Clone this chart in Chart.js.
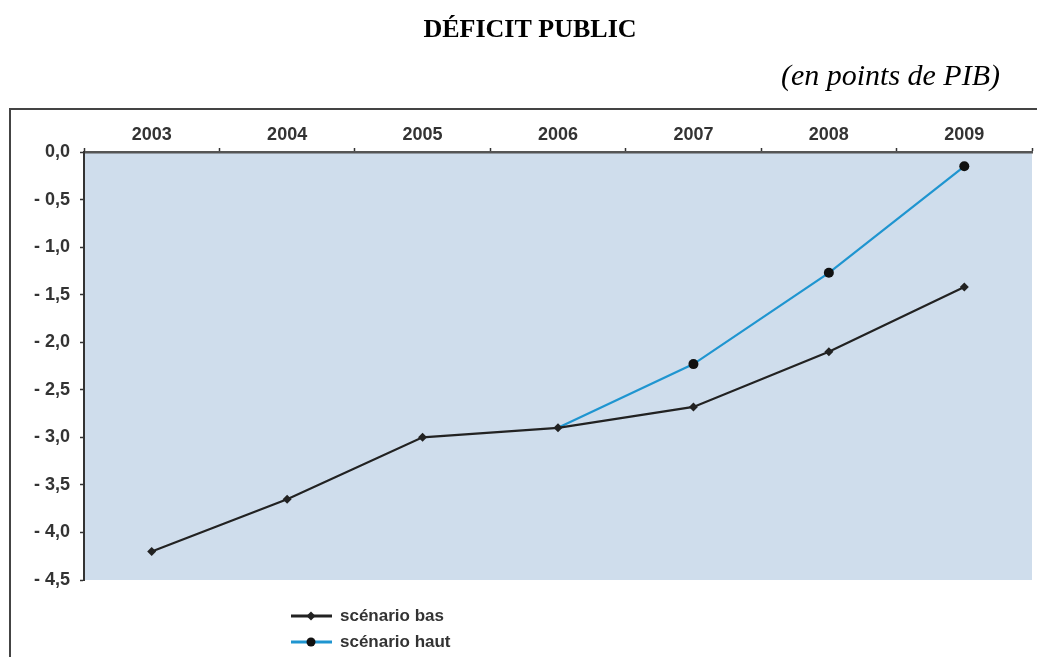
<!DOCTYPE html>
<html lang="fr">
<head>
<meta charset="utf-8">
<title>Déficit public</title>
<script src="https://cdn.jsdelivr.net/npm/chart.js@4/dist/chart.umd.min.js"></script>
<style>
  html, body { margin: 0; padding: 0; background: #fff; }
  canvas { display: block; }
</style>
</head>
<body>
<canvas id="chartDeficit" width="1037" height="657"></canvas>
<script>
// Déficit public, en points de PIB – deux scénarios
const annees = ['2003', '2004', '2005', '2006', '2007', '2008', '2009'];
const scenarioBas = [-4.2, -3.65, -3.0, -2.9, -2.68, -2.1, -1.42];
const scenarioHaut = [null, null, null, -2.9, -2.23, -1.27, -0.15];
const rayonsHaut = [0, 0, 0, 0, 5, 5, 5];

const titre = 'DÉFICIT PUBLIC';
const sousTitre = '(en points de PIB)';

const couleurBas = '#222222';
const couleurHaut = '#1f95d0';
const fondGraphe = '#cfddec';
const policeAxes = '"Liberation Sans", Arial, sans-serif';

// "- 0,5" au lieu de "-0.5"
function formatValeur(v) {
  const n = Math.abs(v).toFixed(1).replace('.', ',');
  return v < 0 ? '- ' + n : n;
}

// Cadre, titres, fond de la zone de tracé et légende
const cadrePlugin = {
  id: 'cadre',
  beforeDraw(chart) {
    const { ctx, chartArea: a } = chart;
    ctx.save();
    ctx.fillStyle = '#ffffff';
    ctx.fillRect(0, 0, chart.width, chart.height);

    ctx.fillStyle = '#000';
    ctx.textBaseline = 'middle';
    ctx.textAlign = 'center';
    ctx.font = 'bold 26px "Liberation Serif"';
    ctx.fillText(titre, 530, 30);

    ctx.textAlign = 'right';
    ctx.font = 'italic 30px "Liberation Serif"';
    ctx.fillText(sousTitre, 1000, 77);

    ctx.strokeStyle = '#444';
    ctx.lineWidth = 2;
    ctx.beginPath();
    ctx.moveTo(10, chart.height + 2);
    ctx.lineTo(10, 109);
    ctx.lineTo(chart.width + 2, 109);
    ctx.stroke();

    ctx.fillStyle = fondGraphe;
    ctx.fillRect(a.left, a.top, a.right - a.left, a.bottom - a.top);
    ctx.restore();
  },
  afterDraw(chart) {
    const { ctx } = chart;
    ctx.save();
    ctx.font = 'bold 17px ' + policeAxes;
    ctx.textBaseline = 'middle';
    ctx.textAlign = 'left';
    chart.data.datasets.forEach((ds, i) => {
      const y = 616 + i * 26;
      ctx.strokeStyle = ds.borderColor;
      ctx.lineWidth = 3;
      ctx.beginPath();
      ctx.moveTo(291, y);
      ctx.lineTo(332, y);
      ctx.stroke();
      ctx.fillStyle = ds.pointBackgroundColor;
      ctx.beginPath();
      if (ds.pointStyle === 'rectRot') {
        ctx.moveTo(311, y - 4.5);
        ctx.lineTo(315.5, y);
        ctx.lineTo(311, y + 4.5);
        ctx.lineTo(306.5, y);
        ctx.closePath();
      } else {
        ctx.arc(311, y, 4.5, 0, Math.PI * 2);
      }
      ctx.fill();
      ctx.fillStyle = '#333';
      ctx.fillText(ds.label, 340, y);
    });
    ctx.restore();
  }
};

new Chart(document.getElementById('chartDeficit'), {
  type: 'line',
  data: {
    labels: annees,
    datasets: [
      {
        label: 'scénario bas',
        data: scenarioBas,
        borderColor: couleurBas,
        borderWidth: 2.2,
        pointStyle: 'rectRot',
        pointRadius: 4.5,
        pointBackgroundColor: couleurBas,
        pointBorderWidth: 0,
        tension: 0,
        order: 0
      },
      {
        label: 'scénario haut',
        data: scenarioHaut,
        borderColor: couleurHaut,
        borderWidth: 2.2,
        pointStyle: 'circle',
        pointRadius: rayonsHaut,
        pointBackgroundColor: '#111111',
        pointBorderWidth: 0,
        tension: 0,
        order: 1
      }
    ]
  },
  options: {
    responsive: false,
    animation: false,
    layout: { padding: { left: 0, right: 4, top: 110, bottom: 77 } },
    plugins: {
      legend: { display: false },
      tooltip: { enabled: false }
    },
    scales: {
      x: {
        position: 'top',
        offset: true,
        afterFit: s => { s.height = 42; },
        grid: {
          drawOnChartArea: false,
          offset: true,
          tickLength: 4,
          tickWidth: 1.5,
          tickColor: '#333'
        },
        border: { color: '#555', width: 2.5 },
        ticks: {
          padding: 2,
          color: '#333',
          font: { family: policeAxes, size: 18, weight: 'bold' }
        }
      },
      y: {
        min: -4.5,
        max: 0,
        afterFit: s => { s.width = 84; },
        grid: {
          drawOnChartArea: false,
          tickLength: 4,
          tickWidth: 1.5,
          tickColor: '#333'
        },
        border: { color: '#333', width: 2 },
        ticks: {
          stepSize: 0.5,
          padding: 10,
          color: '#333',
          font: { family: policeAxes, size: 18, weight: 'bold' },
          callback: v => formatValeur(v)
        }
      }
    }
  },
  plugins: [cadrePlugin]
});
</script>
</body>
</html>
